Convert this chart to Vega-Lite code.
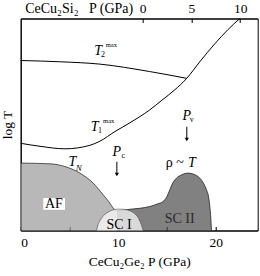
{
  "$schema": "https://vega.github.io/schema/vega-lite/v6.json",
  "autosize": "none",
  "width": 237,
  "height": 212,
  "padding": {"left": 20.7, "top": 18.5, "right": 2.3, "bottom": 45.5},
  "config": {
    "font": "Liberation Serif",
    "view": {"stroke": "black", "strokeWidth": 1},
    "axis": {"grid": false, "domainColor": "black", "tickColor": "black", "labelColor": "black", "titleColor": "black", "titleFontWeight": "normal", "labelFont": "Liberation Serif", "titleFont": "Liberation Serif"},
    "text": {"font": "Liberation Serif"}
  },
  "datasets": {
    "t2": [{"P":0,"y":170},{"P":4.1,"y":168.7},{"P":8.1,"y":166.4},{"P":13.2,"y":159},{"P":17.0,"y":152.2}],
    "t1": [{"P":0,"y":87.2},{"P":1.98,"y":84.2},{"P":4.54,"y":81.7},{"P":7.1,"y":85.2},{"P":8.12,"y":89.3},{"P":9.67,"y":99},{"P":11.19,"y":107.7},{"P":13.24,"y":120.7},{"P":14.47,"y":130.2},{"P":15.8,"y":140.7},{"P":16.98,"y":151.7},{"P":18.36,"y":168.7},{"P":19.9,"y":186.7},{"P":21.23,"y":200.7},{"P":22.46,"y":212}],
    "af": [{"P":0,"y":67.4},{"P":3.0,"y":66.7},{"P":4.71,"y":63.4},{"P":6.07,"y":57.4},{"P":7.43,"y":47.4},{"P":8.46,"y":35.7},{"P":9.14,"y":27.4},{"P":9.48,"y":22.4},{"P":9.86,"y":19.7}],
    "sc2": [{"P":9.86,"y":19.7},{"P":11.19,"y":21.2},{"P":12.2,"y":22.2},{"P":13.24,"y":24},{"P":14.06,"y":26.7},{"P":14.6,"y":29},{"P":14.98,"y":33.7},{"P":15.29,"y":40.7},{"P":15.6,"y":47.7},{"P":15.98,"y":52.4},{"P":16.52,"y":55.7},{"P":17.16,"y":57.4},{"P":17.75,"y":56.2},{"P":18.36,"y":52.4},{"P":18.77,"y":46.7},{"P":19.05,"y":40.7},{"P":19.28,"y":32.7},{"P":19.39,"y":24},{"P":19.49,"y":12.7},{"P":19.56,"y":0}],
    "sc1": [{"P":7.78,"y":0},{"P":7.92,"y":5.7},{"P":8.12,"y":9.7},{"P":8.43,"y":14.2},{"P":8.84,"y":17.7},{"P":9.35,"y":20.2},{"P":9.97,"y":21.4},{"P":10.58,"y":21.2},{"P":11.19,"y":19.7},{"P":11.7,"y":16.7},{"P":12.11,"y":11.7},{"P":12.37,"y":5.7},{"P":12.56,"y":0}]
  },
  "layer": [
    {
      "layer": [
        {
          "data": {"name": "af"},
          "mark": {"type": "area", "interpolate": "monotone", "color": "#9a9a9a", "line": {"color": "#333", "strokeWidth": 0.8}},
          "encoding": {
            "x": {"field": "P", "type": "quantitative", "scale": {"domain": [0, 24.3], "nice": false, "zero": false},
              "axis": {"values": [0, 5, 10, 15, 20], "labelExpr": "datum.value % 10 === 0 ? datum.label : ''", "tickSize": -4, "labelPadding": 9, "labelFontSize": 13.5, "title": "CeCu₂Ge₂ P (GPa)", "titleFontSize": 13.5, "titlePadding": 5}},
            "y": {"field": "y", "type": "quantitative", "scale": {"domain": [0, 212], "nice": false, "zero": false},
              "axis": {"ticks": false, "labels": false, "title": "log T", "titleFontSize": 13.5, "titlePadding": 6}}
          }
        },
        {
          "data": {"name": "sc2"},
          "mark": {"type": "area", "interpolate": "monotone", "color": "#4c4c4c", "line": {"color": "#222", "strokeWidth": 0.8}},
          "encoding": {"x": {"field": "P", "type": "quantitative"}, "y": {"field": "y", "type": "quantitative"}}
        },
        {
          "data": {"name": "sc1"},
          "mark": {"type": "area", "interpolate": "monotone", "color": "white", "line": {"color": "#444", "strokeWidth": 0.6}},
          "encoding": {"x": {"field": "P", "type": "quantitative"}, "y": {"field": "y", "type": "quantitative"}}
        },
        {
          "data": {"name": "t2"},
          "mark": {"type": "line", "interpolate": "monotone", "color": "black", "strokeWidth": 1},
          "encoding": {"x": {"field": "P", "type": "quantitative"}, "y": {"field": "y", "type": "quantitative"}}
        },
        {
          "data": {"name": "t1"},
          "mark": {"type": "line", "interpolate": "monotone", "color": "black", "strokeWidth": 1},
          "encoding": {"x": {"field": "P", "type": "quantitative"}, "y": {"field": "y", "type": "quantitative"}}
        },
        {
          "data": {"values": [{"x1": 2.31, "x2": 4.54, "y1": 20.7, "y2": 32.4}]},
          "mark": {"type": "rect", "color": "white"},
          "encoding": {"x": {"field": "x1", "type": "quantitative"}, "x2": {"field": "x2"}, "y": {"field": "y1", "type": "quantitative"}, "y2": {"field": "y2"}}
        },
        {
          "data": {"values": [{"P": 9.86, "y1": 68.7, "y2": 57}, {"P": 17.03, "y1": 103.7, "y2": 92}]},
          "mark": {"type": "rule", "color": "black", "strokeWidth": 1},
          "encoding": {"x": {"field": "P", "type": "quantitative"}, "y": {"field": "y1", "type": "quantitative"}, "y2": {"field": "y2"}}
        },
        {
          "data": {"values": [{"P": 9.86, "y": 56}, {"P": 17.03, "y": 91}]},
          "mark": {"type": "point", "shape": "triangle-down", "filled": true, "color": "black", "size": 18, "opacity": 1},
          "encoding": {"x": {"field": "P", "type": "quantitative"}, "y": {"field": "y", "type": "quantitative"}}
        },
        {
          "data": {"values": [{"P": 7.95, "y": 179.7, "t": "T"}, {"P": 7.58, "y": 104, "t": "T"}, {"P": 5.3, "y": 68.2, "t": "T"}, {"P": 9.86, "y": 79, "t": "P"}, {"P": 17.03, "y": 115, "t": "P"}, {"P": 17.56, "y": 67.7, "t": "T"}]},
          "mark": {"type": "text", "font": "Liberation Serif", "fontStyle": "italic", "fontSize": 14, "baseline": "middle", "align": "center", "color": "black"},
          "encoding": {"x": {"field": "P", "type": "quantitative"}, "y": {"field": "y", "type": "quantitative"}, "text": {"field": "t"}}
        },
        {
          "data": {"values": [{"P": 8.45, "y": 175.2, "t": "2"}, {"P": 8.12, "y": 99.2, "t": "1"}, {"P": 10.53, "y": 74.7, "t": "c"}, {"P": 17.54, "y": 110.4, "t": "v"}]},
          "mark": {"type": "text", "font": "Liberation Serif", "fontSize": 8, "baseline": "middle", "align": "center", "color": "black"},
          "encoding": {"x": {"field": "P", "type": "quantitative"}, "y": {"field": "y", "type": "quantitative"}, "text": {"field": "t"}}
        },
        {
          "data": {"values": [{"P": 5.95, "y": 62.9, "t": "N"}]},
          "mark": {"type": "text", "font": "Liberation Serif", "fontSize": 9, "fontStyle": "italic", "baseline": "middle", "align": "center", "color": "black"},
          "encoding": {"x": {"field": "P", "type": "quantitative"}, "y": {"field": "y", "type": "quantitative"}, "text": {"field": "t"}}
        },
        {
          "data": {"values": [{"P": 9.3, "y": 185.5, "t": "max"}, {"P": 9.02, "y": 109.5, "t": "max"}]},
          "mark": {"type": "text", "font": "Liberation Serif", "fontSize": 6.5, "baseline": "middle", "align": "center", "color": "black"},
          "encoding": {"x": {"field": "P", "type": "quantitative"}, "y": {"field": "y", "type": "quantitative"}, "text": {"field": "t"}}
        },
        {
          "data": {"values": [{"P": 3.41, "y": 26.7, "t": "AF"}, {"P": 10.09, "y": 5.9, "t": "SC I"}, {"P": 15.8, "y": 67.7, "t": "ρ ~"}]},
          "mark": {"type": "text", "font": "Liberation Serif", "fontSize": 14, "baseline": "middle", "align": "center", "color": "black"},
          "encoding": {"x": {"field": "P", "type": "quantitative"}, "y": {"field": "y", "type": "quantitative"}, "text": {"field": "t"}}
        },
        {
          "data": {"values": [{"P": 16.3, "y": 11.5, "t": "SC II"}]},
          "mark": {"type": "text", "font": "Liberation Serif", "fontSize": 14, "baseline": "middle", "align": "center", "color": "#2a2a2a"},
          "encoding": {"x": {"field": "P", "type": "quantitative"}, "y": {"field": "y", "type": "quantitative"}, "text": {"field": "t"}}
        }
      ]
    },
    {
      "data": {"values": [{"Ps": 0}]},
      "mark": {"type": "point", "opacity": 0},
      "encoding": {
        "x": {"field": "Ps", "type": "quantitative", "scale": {"domain": [-12.5, 11.8], "nice": false, "zero": false},
          "axis": {"orient": "top", "values": [0, 5, 10], "tickSize": -4, "labelPadding": 7.5, "labelFontSize": 13.5, "title": "CeCu₂Si₂\u00a0\u00a0\u00a0P (GPa)", "titleFontSize": 14, "titleAngle": 0, "titleX": 4, "titleY": -10.5, "titleAlign": "left", "titleBaseline": "middle", "titleAnchor": null}}
      }
    }
  ],
  "resolve": {"scale": {"x": "independent"}, "axis": {"x": "independent"}}
}
